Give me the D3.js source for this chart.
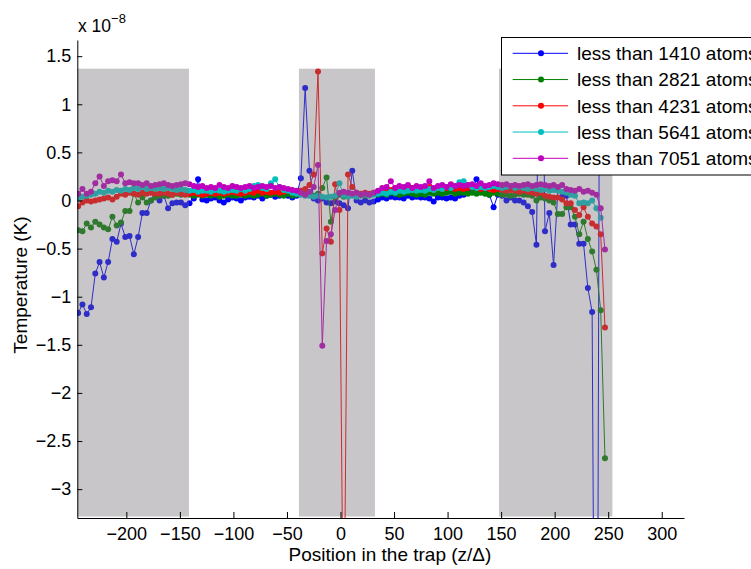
<!DOCTYPE html>
<html><head><meta charset="utf-8">
<script src="https://cdn.jsdelivr.net/npm/d3@7"></script>
<style>
body{margin:0;background:#fff;}
svg{display:block;font-family:"Liberation Sans",Arial,Helvetica,sans-serif;}
</style>
</head><body>
<svg id="chart" width="751" height="569"></svg>
<script>
// Positions in the trap (z/Δ)
const positions = [
-245,-241,-237,-233,-229,-225,-221,-217,-213,-209,
-205,-201,-197,-193,-189,-185,-181,-177,-173,-169,
-165,-161,-157,-153,-149,-145,-141,-137,-133,-129,
-125,-121,-117,-113,-109,-105,-101,-97,-93,-89,
-85,-81,-77,-73,-69,-65,-61,-57,-53,-49,
-45,-41,-37,-33,-29,-25,-21,-17,-13,-9,
-5,-1,3,7,11,15,19,23,27,31,
35,39,43,47,51,55,59,63,67,71,
75,79,83,87,91,95,99,103,107,111,
115,119,123,127,131,135,139,143,147,151,
155,159,163,167,171,175,179,183,187,191,
195,199,203,207,211,215,219,223,227,231,
235,239,243,247];

// Temperatures, in units of 1e-8 K
const temp1410 = [
-1.17,-1.08,-1.18,-1.11,-0.76,-0.64,-0.80,-0.64,-0.40,-0.43,
-0.24,-0.38,-0.37,-0.56,-0.38,-0.13,-0.13,0.00,0.05,0.00,
0.05,-0.08,-0.03,-0.02,-0.02,-0.05,-0.03,0.02,0.22,0.01,
0.00,0.02,0.03,0.00,-0.02,0.01,0.03,0.02,0.00,0.03,
0.04,0.03,0.05,0.02,0.05,0.06,0.04,0.05,0.06,0.05,
0.03,0.05,0.23,1.17,0.31,0.02,0.00,0.02,-0.02,-0.03,
-0.01,-0.03,-0.05,-0.08,0.31,0.00,-0.02,0.00,-0.02,-0.01,
0.01,0.03,0.02,0.04,0.03,0.03,0.02,0.05,0.03,0.04,
0.03,0.03,0.02,-0.01,0.03,0.03,0.02,0.03,0.02,0.05,
0.06,0.08,0.10,0.22,0.09,0.08,0.06,-0.07,0.06,0.05,
0.00,0.03,0.00,0.00,-0.02,-0.06,-0.12,-0.46,3.00,-0.32,
-0.13,-0.67,0.11,0.04,0.05,-0.25,-0.25,-0.45,-0.45,-0.91,
-1.16,-9.00,6.00,4.00];
const temp2821 = [
-0.31,-0.32,-0.24,-0.28,-0.22,-0.25,-0.28,-0.30,-0.17,-0.26,
-0.23,-0.11,-0.11,0.07,-0.02,0.03,-0.02,0.00,0.03,0.05,
0.05,0.05,0.06,0.07,0.06,0.07,0.06,0.05,0.06,0.05,
0.06,0.05,0.06,0.04,0.05,0.06,0.05,0.05,0.06,0.05,
0.06,0.05,0.06,0.07,0.05,0.06,0.07,0.06,0.05,0.07,
0.05,0.06,0.08,0.07,0.06,0.05,0.07,0.13,0.24,-0.22,
0.03,0.06,0.04,0.05,0.06,0.05,0.06,0.05,0.06,0.07,
0.06,0.07,0.06,0.08,0.07,0.06,0.07,0.08,0.07,0.06,
0.07,0.06,0.08,0.07,0.08,0.07,0.08,0.09,0.07,0.08,
0.08,0.07,0.08,0.07,0.08,0.07,0.06,0.08,0.07,0.06,
0.06,0.05,0.06,0.07,0.06,0.06,0.05,0.00,0.03,0.02,
0.00,-0.02,-0.14,-0.14,-0.07,-0.07,-0.17,-0.35,-0.22,-0.40,
-0.53,-0.72,-1.14,-2.68];
const temp4231 = [
-0.06,-0.02,0.00,-0.01,0.00,0.01,0.02,0.03,0.01,0.04,
0.07,0.06,0.08,0.07,0.06,0.08,0.07,0.08,0.07,0.07,
0.08,0.07,0.06,0.08,0.07,0.06,0.07,0.08,0.07,0.06,
0.07,0.08,0.07,0.08,0.07,0.08,0.09,0.08,0.07,0.08,
0.09,0.08,0.10,0.08,0.09,0.08,0.09,0.08,0.09,0.10,
0.08,0.09,0.10,0.12,0.16,0.27,1.34,-0.55,-0.29,-0.43,
0.17,-0.10,-5.00,0.27,0.14,0.08,0.07,0.08,0.07,0.08,
0.09,0.10,0.12,0.11,0.13,0.12,0.13,0.12,0.13,0.12,
0.13,0.12,0.14,0.11,0.13,0.12,0.13,0.14,0.12,0.13,
0.12,0.13,0.14,0.13,0.12,0.13,0.12,0.11,0.12,0.11,
0.10,0.11,0.10,0.09,0.10,0.09,0.08,0.07,0.08,0.05,
0.04,0.03,0.03,0.01,-0.03,-0.03,-0.10,-0.15,-0.07,-0.17,
-0.24,-0.27,-0.35,-1.32];
const temp5641 = [
0.02,0.04,0.05,0.06,0.07,0.09,0.08,0.10,0.09,0.11,
0.10,0.12,0.11,0.13,0.12,0.14,0.12,0.13,0.12,0.13,
0.12,0.13,0.12,0.11,0.12,0.11,0.10,0.11,0.09,0.10,
0.10,0.09,0.11,0.10,0.09,0.10,0.11,0.10,0.12,0.10,
0.12,0.15,0.16,0.13,0.12,0.18,0.22,0.14,0.11,0.10,
0.08,0.07,0.06,0.05,0.05,0.04,0.05,0.04,0.03,0.04,
0.05,0.18,0.05,0.04,0.05,0.04,0.05,0.06,0.05,0.06,
0.07,0.08,0.07,0.09,0.08,0.10,0.09,0.10,0.11,0.10,
0.11,0.10,0.12,0.11,0.13,0.12,0.14,0.13,0.15,0.19,
0.20,0.16,0.14,0.13,0.14,0.13,0.14,0.15,0.14,0.13,
0.14,0.15,0.13,0.14,0.13,0.12,0.13,0.12,0.11,0.12,
0.10,0.11,0.10,0.09,0.08,0.06,0.05,-0.03,-0.02,-0.03,
0.00,-0.08,-0.18,null];
const temp7051 = [
0.07,0.12,0.07,0.09,0.18,0.25,0.15,0.20,0.21,0.20,
0.27,0.18,0.19,0.18,0.18,0.16,0.18,0.15,0.16,0.17,
0.18,0.16,0.15,0.16,0.17,0.18,0.17,0.15,0.14,0.15,
0.13,0.14,0.13,0.16,0.14,0.13,0.15,0.14,0.13,0.14,
0.15,0.13,0.14,0.15,0.14,0.15,0.13,0.14,0.13,0.12,
0.11,0.10,0.08,0.06,0.09,0.14,0.37,-1.51,-0.42,-0.35,
-0.10,0.08,0.09,0.08,0.07,0.08,0.06,0.07,0.06,0.08,
0.10,0.13,0.14,0.20,0.13,0.15,0.14,0.16,0.13,0.15,
0.14,0.15,0.20,0.13,0.15,0.16,0.14,0.17,0.15,0.16,
0.15,0.16,0.17,0.15,0.18,0.15,0.16,0.18,0.17,0.16,
0.17,0.15,0.16,0.15,0.16,0.17,0.15,0.16,0.17,0.16,
0.15,0.16,0.14,0.16,0.12,0.11,0.10,0.12,0.09,0.10,
0.08,0.06,-0.08,-0.51];

const seriesNames = ["less than 1410 atoms","less than 2821 atoms","less than 4231 atoms","less than 5641 atoms","less than 7051 atoms"];
const seriesColors = ["#0000ff","#008000","#ff0000","#00bfbf","#bf00bf"];
const xTicks = [-200,-150,-100,-50,0,50,100,150,200,250,300];
const yTicks = [-3,-2.5,-2,-1.5,-1,-0.5,0,0.5,1,1.5];
const shadedRanges = [[-250,-141.5],[-38.8,32.2],[148,253.9]];
const shadeTop = 1.37, shadeBottom = -3.285;
const xLimits = [-245.8, 320.8];
const yLimits = [-3.30, 1.668];

const allSeries = [temp1410, temp2821, temp4231, temp5641, temp7051];

const svg = d3.select("#chart");
const P = {left:77.3, right:684, top:40, bottom:518};
const x = d3.scaleLinear().domain(xLimits).range([P.left, P.right]);
const y = d3.scaleLinear().domain(yLimits).range([P.bottom, P.top]);

svg.append("defs").append("clipPath").attr("id","plotclip")
  .append("rect").attr("x",P.left).attr("y",P.top)
  .attr("width",P.right-P.left).attr("height",P.bottom-P.top);

const plotG = svg.append("g").attr("clip-path","url(#plotclip)");

const line = d3.line().defined(d=>d[1]!=null).x(d=>x(d[0])).y(d=>y(d[1]));

allSeries.forEach((s,k)=>{
  const pts = positions.map((p,i)=>[p,s[i]]);
  plotG.append("path").datum(pts).attr("d",line)
    .attr("fill","none").attr("stroke",seriesColors[k]).attr("stroke-width",1);
  plotG.append("g").selectAll("circle").data(pts.filter(d=>d[1]!=null)).join("circle")
    .attr("cx",d=>x(d[0])).attr("cy",d=>y(d[1])).attr("r",3)
    .attr("fill",seriesColors[k]);
});

// translucent shaded regions on top of the data
plotG.selectAll("rect.shade").data(shadedRanges).join("rect")
  .attr("class","shade")
  .attr("x",d=>x(d[0])).attr("width",d=>x(d[1])-x(d[0]))
  .attr("y",y(shadeTop)).attr("height",y(shadeBottom)-y(shadeTop))
  .attr("fill","rgb(118,113,118)").attr("fill-opacity",0.4);

const fmt = v => (v<0 ? "\u2212" : "") + Math.abs(v);

const xAxis = svg.append("g").attr("transform",`translate(0,${P.bottom})`)
  .call(d3.axisBottom(x).tickValues(xTicks).tickSizeInner(-6).tickSizeOuter(0).tickPadding(9).tickFormat(fmt));
const yAxis = svg.append("g").attr("transform",`translate(${P.left},0)`)
  .call(d3.axisLeft(y).tickValues(yTicks).tickSizeInner(-5).tickSizeOuter(0).tickPadding(6).tickFormat(fmt));
[xAxis,yAxis].forEach(a=>{
  a.attr("font-family",null).attr("font-size",null);
  a.selectAll("text").attr("fill","#000").style("font-size","18px");
  a.selectAll("line").attr("stroke","#000");
  a.select(".domain").attr("stroke","#000");
});

// multiplier
const mult = svg.append("text").attr("x",78).attr("y",32).attr("fill","#000").style("font-size","17.5px");
mult.append("tspan").text("x 10");
mult.append("tspan").attr("dy",-9).style("font-size","13px").text("\u22128");

// axis labels
svg.append("text").attr("x",390).attr("y",561).attr("text-anchor","middle")
  .style("font-size","19px").attr("fill","#000").text("Position in the trap (z/\u0394)");
svg.append("text").attr("transform","translate(27,285) rotate(-90)").attr("text-anchor","middle")
  .style("font-size","19px").attr("fill","#000").text("Temperature (K)");

// legend
const lg = svg.append("g");
lg.append("rect").attr("x",501.5).attr("y",37.5).attr("width",300).attr("height",137.5)
  .attr("fill","#fff").attr("stroke","#000").attr("stroke-width",1);
const rowY = d3.scaleLinear().domain([0,4]).range([53.3,158.3]);
seriesNames.forEach((n,k)=>{
  const yy = rowY(k);
  lg.append("line").attr("x1",512.7).attr("x2",568).attr("y1",yy).attr("y2",yy)
    .attr("stroke",seriesColors[k]).attr("stroke-width",1);
  lg.append("circle").attr("cx",541).attr("cy",yy).attr("r",3).attr("fill",seriesColors[k]);
  lg.append("text").attr("x",577).attr("y",yy).attr("dy","0.36em")
    .style("font-size","19px").attr("fill","#000").text(n);
});
</script>
</body></html>
